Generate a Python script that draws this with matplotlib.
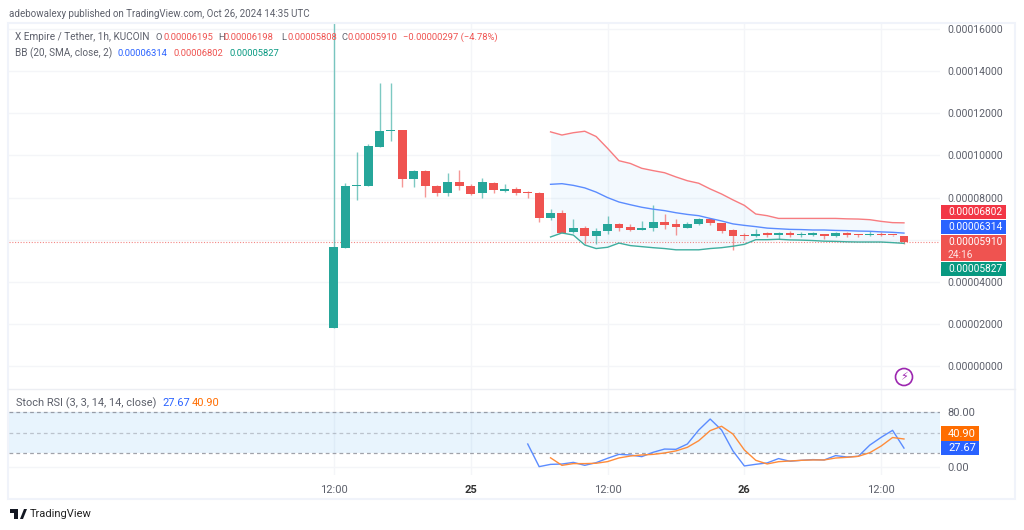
import matplotlib
matplotlib.use("Agg")
import matplotlib.pyplot as plt
from matplotlib.patches import Rectangle, Ellipse, Polygon

plt.rcParams["font.family"] = ["Roboto", "DejaVu Sans"]

# prices are in units of 0.00001
opens = [1.79, 5.60, 8.54, 8.54, 10.39, 11.15, 11.20, 8.90, 9.26, 8.57,
         8.20, 8.73, 8.57, 8.20, 8.71, 8.33, 8.40, 8.25, 8.24, 7.05,
         7.25, 6.38, 6.57, 6.19, 6.41, 6.73, 6.60, 6.48, 6.54, 6.86,
         6.73, 6.57, 6.73, 7.00, 6.79, 6.48, 6.19, 6.19, 6.29, 6.24,
         6.30, 6.21, 6.24, 6.27, 6.17, 6.32, 6.25, 6.20, 6.29, 6.22, 6.195]
closes = [5.64, 8.54, 8.58, 10.45, 11.15, 11.20, 8.87, 9.26, 8.54, 8.20,
          8.73, 8.54, 8.19, 8.73, 8.35, 8.40, 8.24, 8.20, 7.05, 7.25,
          6.33, 6.57, 6.19, 6.43, 6.73, 6.57, 6.48, 6.57, 6.86, 6.70,
          6.60, 6.76, 6.97, 6.77, 6.43, 6.16, 6.16, 6.28, 6.24, 6.29,
          6.21, 6.27, 6.29, 6.17, 6.30, 6.22, 6.22, 6.29, 6.22, 6.20, 5.91]
highs = [17.00, 8.68, 10.17, 10.55, 13.43, 13.43, 11.20, 9.30, 9.30, 8.60,
         9.15, 9.31, 8.65, 8.93, 8.76, 8.65, 8.48, 8.30, 8.25, 7.44,
         7.41, 7.00, 6.65, 6.54, 7.12, 6.77, 6.73, 6.87, 7.63, 7.20,
         6.97, 6.82, 7.05, 7.05, 6.80, 6.51, 6.33, 6.49, 6.36, 6.38,
         6.39, 6.36, 6.35, 6.28, 6.35, 6.38, 6.28, 6.39, 6.35, 6.23, 6.198]
lows = [1.79, 5.60, 7.89, 8.54, 10.39, 10.70, 8.49, 8.49, 8.04, 8.08,
        8.08, 8.34, 8.12, 7.98, 8.24, 8.26, 8.12, 7.96, 6.86, 6.93,
        6.33, 6.30, 5.79, 5.79, 6.25, 6.41, 6.41, 6.44, 6.41, 6.51,
        6.21, 6.57, 6.70, 6.70, 6.33, 5.50, 5.98, 6.14, 6.13, 6.02,
        6.13, 6.13, 6.17, 6.05, 6.14, 6.14, 6.12, 6.17, 6.17, 6.18, 5.808]

bb_start = 19
bb_upper = [11.12, 10.97, 11.08, 11.15, 10.90, 10.34, 9.75, 9.62, 9.39, 9.28,
            9.18, 8.98, 8.80, 8.68, 8.41, 8.17, 7.89, 7.63, 7.22, 7.14,
            7.01, 7.01, 7.01, 7.01, 7.01, 7.01, 6.99, 6.98, 6.95, 6.87, 6.81, 6.80]
bb_basis = [8.63, 8.66, 8.58, 8.46, 8.26, 8.00, 7.79, 7.66, 7.54, 7.45,
            7.38, 7.28, 7.20, 7.14, 7.01, 6.89, 6.75, 6.68, 6.62, 6.55,
            6.52, 6.49, 6.48, 6.46, 6.46, 6.44, 6.43, 6.41, 6.40, 6.37, 6.35, 6.314]
bb_lower = [6.13, 6.32, 6.22, 5.75, 5.58, 5.64, 5.84, 5.72, 5.67, 5.62,
            5.58, 5.52, 5.52, 5.52, 5.58, 5.62, 5.69, 5.78, 6.00, 6.00,
            6.02, 5.99, 5.98, 5.96, 5.93, 5.92, 5.90, 5.89, 5.89, 5.89, 5.86, 5.827]

k_start = 17
stoch_k = [33.6, 0.8, 4.1, 4.6, 7.0, 2.7, 6.6, 12.9, 18.6, 17.7,
           15.3, 21.6, 26.3, 25.9, 33.6, 53.9, 69.8, 53.9, 23.6, 1.8,
           4.2, 6.2, 12.5, 8.6, 10.0, 11.0, 10.5, 16.8, 14.8, 15.8,
           32.0, 43.3, 53.4, 27.67]
d_start = 19
stoch_d = [13.6, 2.7, 5.2, 5.2, 5.7, 8.1, 13.4, 16.2, 17.7, 18.6,
           20.6, 23.6, 28.8, 38.4, 53.0, 59.3, 48.0, 25.0, 10.0, 4.7,
           8.0, 9.0, 10.0, 10.5, 10.5, 13.3, 14.3, 15.8, 21.0, 30.7, 43.0, 40.9]

time_ticks = [0, 12, 24, 36, 48]
time_labels = ["12:00", "25", "12:00", "26", "12:00"]
price_ticks = [0, 2, 4, 6, 8, 10, 12, 14, 16]
stoch_ticks = [0, 80]

GREEN = "#26a69a"
RED = "#ef5350"
BLUE = "#2962ff"
TEXT = "#5d606b"
GRID = "#f4f5f8"
DASH = (0, (3, 2.5))
W, H = 1024, 530

fig = plt.figure(figsize=(W / 100, H / 100), dpi=100)


def pane(left, right, top, bottom):
    return fig.add_axes([left / W, 1 - bottom / H, (right - left) / W, (bottom - top) / H])


def label(x, y, s, color=TEXT, size=7.2, **kw):
    kw.setdefault("va", "center")
    fig.text(x / W, 1 - y / H, s, color=color, fontsize=size, **kw)


def box(left, right, top, bottom, color):
    fig.add_artist(Rectangle((left / W, 1 - bottom / H), (right - left) / W, (bottom - top) / H,
                             transform=fig.transFigure, facecolor=color, edgecolor="none"))


ax = pane(9, 940, 23, 389)
ax2 = pane(9, 940, 389, 475)

for a in (ax, ax2):
    a.set_xlim(-28.5, 53.16)
    a.set_xticks(time_ticks)
    a.grid(True, color=GRID, linewidth=1)
    a.set_axisbelow(True)
    a.tick_params(length=0)
    for spine in a.spines.values():
        spine.set_visible(False)

ax.set_ylim(-1.09, 16.29)
ax.set_yticks(price_ticks)
ax.set_yticklabels([f"{p / 100000:.8f}" for p in price_ticks], fontsize=7.6, color=TEXT)
ax.yaxis.tick_right()
ax.tick_params(axis="y", pad=5)
ax.tick_params(axis="x", labelbottom=False)

# candles
for i in range(len(opens)):
    color = GREEN if closes[i] >= opens[i] else RED
    ax.vlines(i, lows[i], highs[i], color=color, linewidth=1, alpha=0.6, zorder=3)
    height = max(abs(closes[i] - opens[i]), 0.07)
    ax.bar(i, height, bottom=min(opens[i], closes[i]), width=0.78, color=color, zorder=4)

# bollinger bands
bb_x = list(range(bb_start, bb_start + len(bb_upper)))
ax.fill_between(bb_x, bb_lower, bb_upper, color="#2196f3", alpha=0.05, linewidth=0, zorder=2)
ax.plot(bb_x, bb_upper, color="#f77c80", linewidth=1, zorder=5)
ax.plot(bb_x, bb_basis, color="#5b8cff", linewidth=1, zorder=5)
ax.plot(bb_x, bb_lower, color="#3fae9f", linewidth=1, zorder=5)
ax.axhline(closes[-1], color=RED, linewidth=0.8, linestyle=(0, (1, 1.5)), alpha=0.7, zorder=2)

# stoch rsi
ax2.set_ylim(-11.3, 113.3)
ax2.set_yticks(stoch_ticks)
ax2.set_yticklabels(["0.00", "80.00"], fontsize=8, color=TEXT)
ax2.yaxis.tick_right()
ax2.tick_params(axis="y", pad=5)
ax2.set_xticklabels(time_labels, fontsize=8, color=TEXT)
ax2.tick_params(axis="x", pad=7)
for tick in ax2.get_xticklabels():
    if tick.get_text() in ("25", "26"):
        tick.set_fontweight("bold")
        tick.set_color("#333333")
ax2.axhspan(20, 80, color="#2196f3", alpha=0.1, linewidth=0)
ax2.axhline(80, color="#787b86", linewidth=0.9, linestyle=DASH, alpha=0.7)
ax2.axhline(50, color="#787b86", linewidth=0.9, linestyle=DASH, alpha=0.4)
ax2.axhline(20, color="#787b86", linewidth=0.9, linestyle=DASH, alpha=0.7)
ax2.plot(range(k_start, k_start + len(stoch_k)), stoch_k, color="#5b8cff", linewidth=1)
ax2.plot(range(d_start, d_start + len(stoch_d)), stoch_d, color="#ff8c3a", linewidth=1)

# frame and pane separator
fig.add_artist(Rectangle((8 / W, 1 - 499 / H), 1007 / W, 476 / H, transform=fig.transFigure,
                         facecolor="none", edgecolor="#f0f3fa", linewidth=1.5))
fig.add_artist(plt.Line2D([8 / W, 1015 / W], [1 - 389 / H, 1 - 389 / H], color="#eceef3", linewidth=1))

# header texts
label(9, 14, "adebowalexy published on TradingView.com, Oct 26, 2024 14:35 UTC", size=7.05)
label(15, 37, "X Empire / Tether, 1h, KUCOIN")
for x, s, c in [(156, "O", TEXT), (163, "0.00006195", RED), (218, "H", TEXT), (224, "0.00006198", RED),
                (281, "L", TEXT), (287, "0.00005808", RED), (341, "C", TEXT), (347, "0.00005910", RED),
                (403, "−0.00000297 (−4.78%)", RED)]:
    label(x, 37, s, color=c, size=6.75)
label(15, 53, "BB (20, SMA, close, 2)")
label(117, 53, "0.00006314", color=BLUE, size=6.75)
label(173, 53, "0.00006802", color=RED, size=6.75)
label(229, 53, "0.00005827", color="#089981", size=6.75)
label(16, 403, "Stoch RSI (3, 3, 14, 14, close)", size=7.9)
label(162, 403, "27.67", color=BLUE, size=7.9)
label(192, 403, "40.90", color="#ff6d00", size=7.9)

# last value tags on the price scale
box(941, 1006, 205, 219, "#f23645")
box(941, 1006, 220, 234, BLUE)
box(941, 1006, 235, 261, RED)
box(941, 1006, 262, 276, "#089981")
for y, s in [(212, "0.00006802"), (227, "0.00006314"), (242, "0.00005910"), (269, "0.00005827")]:
    label(948, y, s, color="white", size=7.3)
label(948, 255, "24:16", color="white", size=7.3, alpha=0.85)

box(941, 979, 426, 441, "#ff6d00")
box(941, 979, 441, 455, BLUE)
label(948, 434, "40.90", color="white", size=8)
label(948, 448, "27.67", color="white", size=8)

# lightning badge
cx, cy = 904 / W, 1 - 377 / H
fig.add_artist(Ellipse((cx, cy), 17 / W, 17 / H, transform=fig.transFigure,
                       facecolor="white", edgecolor="#9c27b0", linewidth=1.2))
fig.text(cx, cy, "\u26a1", color="#9c27b0", fontsize=8, ha="center", va="center", family="DejaVu Sans")

# tradingview logo
logo = [[(10, 509), (18, 509), (18, 519), (14, 519), (14, 513), (10, 513)],
        [(20, 519), (24, 509), (27, 509), (23, 519)]]
for shape in logo:
    fig.add_artist(Polygon([(x / W, 1 - y / H) for x, y in shape], closed=True,
                           transform=fig.transFigure, facecolor="#131722", edgecolor="none"))
label(30, 514, "TradingView", color="#222222", size=8)

fig.savefig("out.png", dpi=100)
